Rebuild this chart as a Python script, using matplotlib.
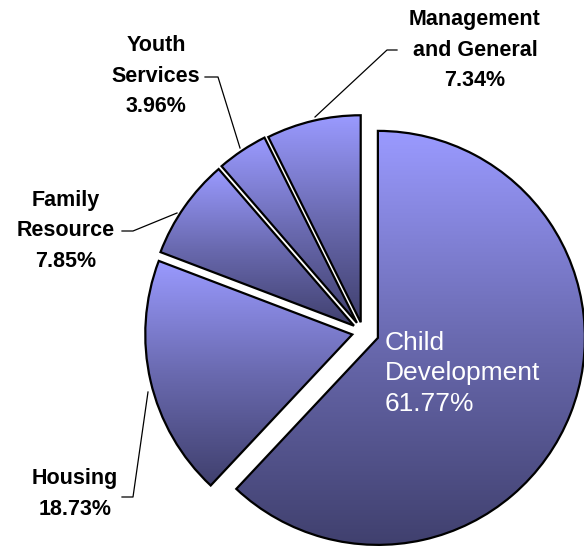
import numpy as np
import matplotlib
matplotlib.use("Agg")
import matplotlib.pyplot as plt
from matplotlib.colors import LinearSegmentedColormap

# ---- data ----
categories = ["Child\nDevelopment", "Housing", "Family\nResource", "Youth\nServices", "Management\nand General"]
values = [61.77, 18.73, 7.85, 3.96, 7.34]
explode = [16, 11, 11, 11, 10]

W, H = 584, 547
plt.rcParams['font.family'] = ['Liberation Sans', 'DejaVu Sans']

fig = plt.figure(figsize=(W / 100, H / 100), dpi=100)
ax = fig.add_axes([0, 0, 1, 1])

def Y(y):
    return H - y

center = (363, Y(332))
radius = 207

wedges, _ = ax.pie(values, explode=explode, startangle=90, counterclock=False,
                   center=center, radius=radius,
                   wedgeprops=dict(facecolor='none', edgecolor='black', linewidth=1.6))

cmap = LinearSegmentedColormap.from_list("grad", ["#40406e", "#6a6ab0", "#9a9aff"])
grad = np.linspace(0, 1, 256).reshape(-1, 1)
for w in wedges:
    w.set_zorder(3)
    bb = w.get_path().get_extents(w.get_patch_transform())
    im = ax.imshow(grad, extent=[bb.x0, bb.x1, bb.y0, bb.y1], origin='lower',
                   cmap=cmap, aspect='auto', zorder=2, interpolation='bilinear')
    im.set_clip_path(w)

ax.set_xlim(0, W)
ax.set_ylim(0, H)
ax.set_aspect('auto')
ax.axis('off')

# ---- labels ----
pct = [f"{v:.2f}%" for v in values]
lab_kw = dict(fontsize=15.5, fontweight='bold', ha='center', va='center',
              linespacing=1.57, color='black')

ax.text(385, Y(331), f"{categories[0]}\n{pct[0]}", fontsize=19, color='white',
        ha='left', va='top', linespacing=1.33, zorder=5)
ax.text(475, Y(50), f"{categories[4]}\n{pct[4]}", **lab_kw)
ax.text(156, Y(76), f"{categories[3]}\n{pct[3]}", **lab_kw)
ax.text(66, Y(231), f"{categories[2]}\n{pct[2]}", **lab_kw)
ax.text(75, Y(494), f"{categories[1]}\n{pct[1]}", **lab_kw)

# ---- leader lines ----
lk = dict(color='black', linewidth=0.9, zorder=4)
ax.plot([397, 387, 315], [Y(50), Y(50), Y(117)], **lk)
ax.plot([205, 218, 240], [Y(77), Y(77), Y(148)], **lk)
ax.plot([122, 133, 177], [Y(231), Y(231), Y(213)], **lk)
ax.plot([122, 133, 148], [Y(497), Y(497), Y(392)], **lk)

fig.savefig("out.png", dpi=100)
